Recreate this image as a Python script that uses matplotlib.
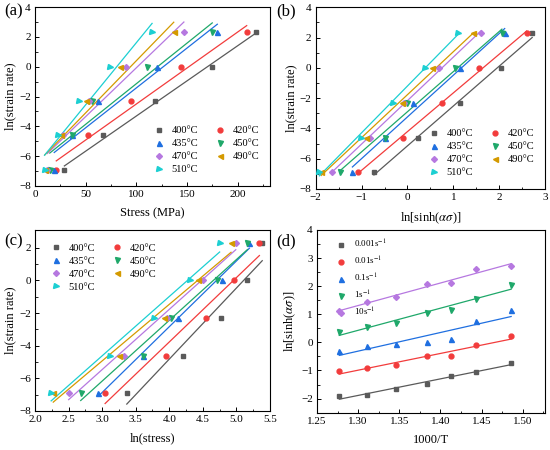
import numpy as np
import matplotlib
matplotlib.use('Agg')
import matplotlib.pyplot as plt

plt.rcParams['font.family'] = ['Liberation Serif', 'DejaVu Serif']
plt.rcParams['mathtext.fontset'] = 'stix'

# deformation temperatures (C) and strain rates (1/s)
temps = [400, 420, 435, 450, 470, 490, 510]
rates = [0.001, 0.01, 0.1, 1, 10]
rate_labels = ['0.001s$^{-1}$', '0.01s$^{-1}$', '0.1s$^{-1}$', '1s$^{-1}$', '10s$^{-1}$']

# peak stress (MPa) for each temperature, one value per strain rate
stress_400 = [29, 67, 118, 175, 218]
stress_420 = [21, 52, 95, 144, 209]
stress_435 = [19, 37, 62, 120, 180]
stress_450 = [14.6, 37, 56, 111, 175]
stress_470 = [12.2, 27.7, 53, 90, 147]
stress_490 = [9.7, 25.8, 50.4, 84, 137]
stress_510 = [9.4, 22.6, 43.4, 74.4, 115.6]

# ln[sinh(alpha*sigma)] for each temperature, one value per strain rate
lnsinh_400 = [-0.73, 0.23, 1.15, 2.05, 2.72]
lnsinh_420 = [-1.07, -0.10, 0.75, 1.56, 2.60]
lnsinh_435 = [-1.20, -0.49, 0.13, 1.15, 2.12]
lnsinh_450 = [-1.47, -0.50, 0.00, 1.04, 2.06]
lnsinh_470 = [-1.65, -0.81, -0.07, 0.68, 1.61]
lnsinh_490 = [-1.88, -0.91, -0.12, 0.54, 1.44]
lnsinh_510 = [-1.92, -1.02, -0.32, 0.38, 1.10]

stress = [stress_400, stress_420, stress_435, stress_450, stress_470, stress_490, stress_510]
lnsinh = [lnsinh_400, lnsinh_420, lnsinh_435, lnsinh_450, lnsinh_470, lnsinh_490, lnsinh_510]

colors = ['#5a5a5a', '#f23c3c', '#1f6fe0', '#1fa86a', '#b678e0', '#d49a00', '#1ccfd2']
markers = ['s', 'o', '^', 'v', 'D', '<', '>']
msizes = [3.0, 3.5, 3.6, 3.6, 3.0, 3.6, 3.6]

fig = plt.figure(figsize=(5.5, 4.5), dpi=100)
ax_a = fig.add_axes([0.0636, 0.587, 0.4273, 0.397])
ax_b = fig.add_axes([0.574, 0.580, 0.417, 0.404])
ax_c = fig.add_axes([0.0636, 0.087, 0.4273, 0.402])
ax_d = fig.add_axes([0.5764, 0.083, 0.4145, 0.406])

lnrate = np.log(rates)


def fit_line(ax, x, y, c):
    x = np.asarray(x, float)
    k, b = np.polyfit(x, y, 1)
    xs = np.array([x.min(), x.max()])
    ax.plot(xs, k * xs + b, color=c, lw=0.9, zorder=2)


def style(ax, xlabel, ylabel):
    ax.set_xlabel(xlabel, fontsize=9, labelpad=6)
    ax.set_ylabel(ylabel, fontsize=9, labelpad=2)
    ax.tick_params(which='both', direction='in', labelsize=8, top=False, right=False)
    ax.tick_params(which='major', length=3, width=0.7, pad=3)
    ax.tick_params(which='minor', length=1.8, width=0.6)
    for s in ax.spines.values():
        s.set_linewidth(0.8)


def temp_legend(ax, **kw):
    h, l = ax.get_legend_handles_labels()
    order = [0, 2, 4, 6, 1, 3, 5]
    ax.legend([h[i] for i in order], [l[i] for i in order], ncol=2, frameon=False,
              fontsize=7.5, handlelength=1.0, handletextpad=0.7, columnspacing=1.6,
              labelspacing=0.35, borderaxespad=0.2, **kw)


for i, T in enumerate(temps):
    c = colors[i]
    # (a) ln(strain rate) vs stress
    ax_a.plot(stress[i], lnrate, ls='none', marker=markers[i], ms=msizes[i], color=c,
              label=f'{T}°C', zorder=3)
    fit_line(ax_a, stress[i], lnrate, c)
    # (b) ln(strain rate) vs ln[sinh(ao)]
    ax_b.plot(lnsinh[i], lnrate, ls='none', marker=markers[i], ms=msizes[i], color=c,
              label=f'{T}°C', zorder=3)
    fit_line(ax_b, lnsinh[i], lnrate, c)
    # (c) ln(strain rate) vs ln(stress)
    ax_c.plot(np.log(stress[i]), lnrate, ls='none', marker=markers[i], ms=msizes[i], color=c,
              label=f'{T}°C', zorder=3)
    fit_line(ax_c, np.log(stress[i]), lnrate, c)

# (d) ln[sinh(ao)] vs 1000/T
invT = 1000.0 / (np.array(temps) + 273.0)
lnsinh_arr = np.array(lnsinh)
for j in range(len(rates)):
    c = colors[j]
    ax_d.plot(invT, lnsinh_arr[:, j], ls='none', marker=markers[j], ms=msizes[j], color=c,
              label=rate_labels[j], zorder=3)
    fit_line(ax_d, invT, lnsinh_arr[:, j], c)

ax_a.set_xlim(0, 232)
ax_a.set_ylim(-8, 4)
ax_a.set_xticks([0, 50, 100, 150, 200])
ax_a.set_xticks([25, 75, 125, 175, 225], minor=True)
ax_a.set_yticks(np.arange(-8, 5, 2))
ax_a.set_yticks(np.arange(-7, 4, 2), minor=True)
style(ax_a, 'Stress (MPa)', 'ln(strain rate)')
temp_legend(ax_a, loc='lower right', bbox_to_anchor=(0.98, 0.03))

ax_b.set_xlim(-2, 3)
ax_b.set_ylim(-8, 4)
ax_b.set_xticks(np.arange(-2, 4, 1))
ax_b.set_xticks(np.arange(-1.5, 3, 1), minor=True)
ax_b.set_yticks(np.arange(-8, 5, 2))
ax_b.set_yticks(np.arange(-7, 4, 2), minor=True)
style(ax_b, r'ln[sinh($\alpha\sigma$)]', 'ln(strain rate)')
temp_legend(ax_b, loc='lower right', bbox_to_anchor=(0.98, 0.03))

ax_c.set_xlim(2.0, 5.5)
ax_c.set_ylim(-8, 3.1)
ax_c.set_xticks(np.arange(2.0, 5.6, 0.5))
ax_c.set_xticks(np.arange(2.25, 5.5, 0.5), minor=True)
ax_c.xaxis.set_major_formatter(matplotlib.ticker.FormatStrFormatter('%.1f'))
ax_c.set_yticks(np.arange(-8, 3, 2))
ax_c.set_yticks(np.arange(-7, 3, 2), minor=True)
style(ax_c, 'ln(stress)', 'ln(strain rate)')
temp_legend(ax_c, loc='upper left', bbox_to_anchor=(0.04, 0.96))

ax_d.set_xlim(1.25, 1.527)
ax_d.set_ylim(-2.5, 4)
ax_d.set_xticks(np.arange(1.25, 1.51, 0.05))
ax_d.set_xticks(np.arange(1.275, 1.53, 0.05), minor=True)
ax_d.xaxis.set_major_formatter(matplotlib.ticker.FormatStrFormatter('%.2f'))
ax_d.set_yticks(np.arange(-2, 5, 1))
ax_d.set_yticks(np.arange(-2.5, 4, 1), minor=True)
style(ax_d, '1000/T', r'ln[sinh($\alpha\sigma$)]')
ax_d.legend(loc='upper left', bbox_to_anchor=(0.05, 1.0), frameon=False, fontsize=6.5,
            handlelength=1.0, handletextpad=0.9, labelspacing=0.55)

fig.text(0.008, 0.965, '(a)', fontsize=12)
fig.text(0.503, 0.965, '(b)', fontsize=12)
fig.text(0.008, 0.455, '(c)', fontsize=12)
fig.text(0.503, 0.455, '(d)', fontsize=12)

fig.savefig('out.png', dpi=100)
